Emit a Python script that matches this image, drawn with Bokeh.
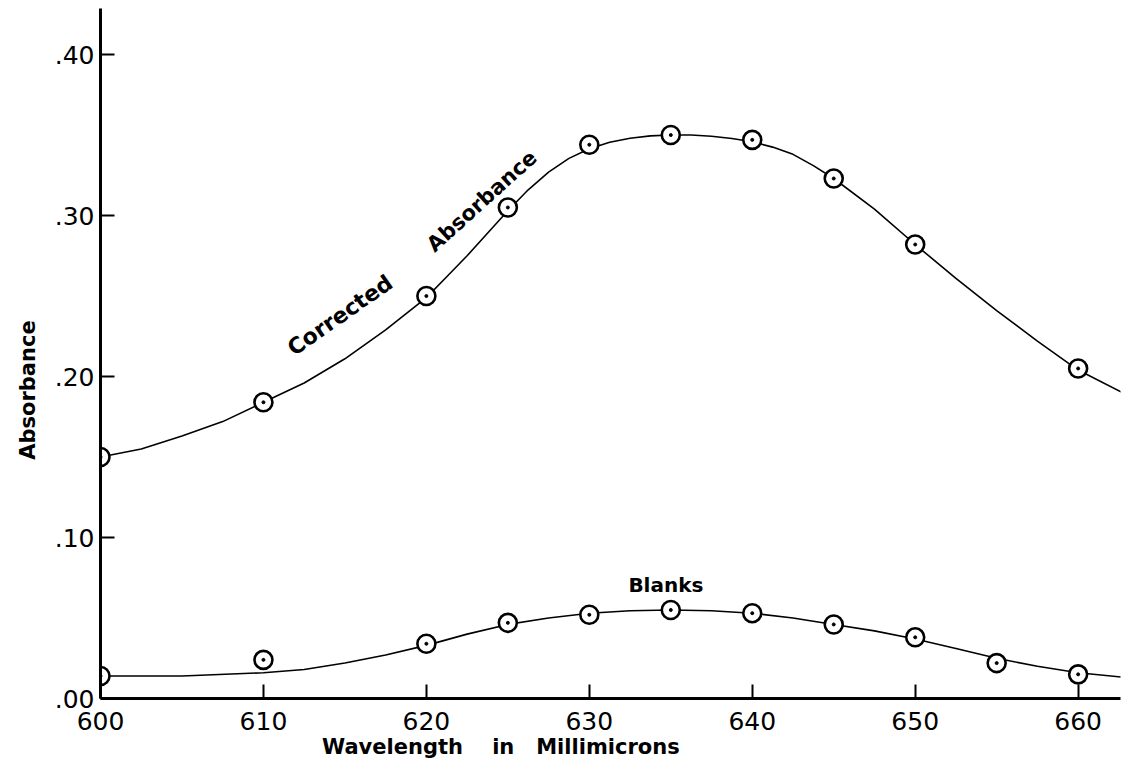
from bokeh.plotting import figure
from bokeh.models import FixedTicker, Range1d, Label
from bokeh.embed import file_html
from bokeh.resources import INLINE

# ---- data ----
wavelength_corr = [600, 610, 620, 625, 630, 635, 640, 645, 650, 660]
absorb_corr = [0.150, 0.184, 0.250, 0.305, 0.344, 0.350, 0.347, 0.323, 0.282, 0.205]

wavelength_blank = [600, 610, 620, 625, 630, 635, 640, 645, 650, 655, 660]
absorb_blank = [0.014, 0.024, 0.034, 0.047, 0.052, 0.055, 0.053, 0.046, 0.038, 0.022, 0.015]

# hand-drawn smooth curves
curve_corr_x = [600, 602.5, 605, 607.5, 610, 612.5, 615, 617.5, 620, 621.25, 622.5, 623.75,
                625, 626.25, 627.5, 628.75, 630, 631.25, 632.5, 633.75, 635, 636.25, 637.5,
                638.75, 640, 641.25, 642.5, 643.75, 645, 647.5, 650, 652.5, 655, 657.5,
                660, 663.5]
curve_corr_y = [0.150, 0.155, 0.163, 0.172, 0.184, 0.196, 0.211, 0.229, 0.249, 0.262,
                0.275, 0.289, 0.303, 0.316, 0.327, 0.3355, 0.3415, 0.3455, 0.348, 0.3495,
                0.350, 0.3500, 0.3492, 0.3478, 0.3458, 0.3425, 0.338, 0.331, 0.323, 0.304,
                0.282, 0.261, 0.241, 0.222, 0.204, 0.186]

curve_blank_x = [600, 605, 610, 612.5, 615, 617.5, 620, 622.5, 625, 627.5, 630, 632.5,
                 635, 637.5, 640, 642.5, 645, 647.5, 650, 652.5, 655, 657.5, 660, 663]
curve_blank_y = [0.014, 0.014, 0.016, 0.018, 0.022, 0.027, 0.033, 0.040, 0.046, 0.050,
                 0.053, 0.0545, 0.055, 0.0545, 0.053, 0.050, 0.046, 0.042, 0.037, 0.031,
                 0.025, 0.020, 0.016, 0.013]

x_ticks = [600, 610, 620, 630, 640, 650, 660]
y_ticks = [0.0, 0.1, 0.2, 0.3, 0.4]
y_tick_labels = [".00", ".10", ".20", ".30", ".40"]

FONT = "DejaVu Sans"
NB = "\u00a0"

p = figure(width=1130, height=766, output_backend="svg", toolbar_location=None,
           x_range=Range1d(600, 662.6), y_range=Range1d(0, 0.4286),
           min_border_left=100, min_border_right=10, min_border_top=8,
           min_border_bottom=68)
p.outline_line_color = None
p.grid.visible = False
p.background_fill_color = "white"
p.border_fill_color = "white"

# curves
p.line(curve_corr_x, curve_corr_y, line_color="black", line_width=1.6)
p.line(curve_blank_x, curve_blank_y, line_color="black", line_width=1.6)

# markers: open circles with a center dot
for xs, ys in ((wavelength_corr, absorb_corr), (wavelength_blank, absorb_blank)):
    p.scatter(xs, ys, marker="circle", size=18, fill_color="white",
              line_color="black", line_width=2.6)
    p.scatter(xs, ys, marker="circle", size=3, fill_color="black", line_color="black")

# axes
for ax in (p.xaxis[0], p.yaxis[0]):
    ax.axis_line_width = 3
    ax.axis_line_color = "black"
    ax.major_tick_in = 14
    ax.major_tick_out = 0
    ax.major_tick_line_width = 2
    ax.minor_tick_line_color = None
    ax.major_label_text_font = FONT
    ax.major_label_text_font_size = "25px"
    ax.major_label_text_color = "black"
    ax.axis_label_text_font = FONT
    ax.axis_label_text_font_style = "bold"
    ax.axis_label_text_font_size = "21px"
    ax.axis_label_text_color = "black"

p.xaxis.ticker = FixedTicker(ticks=x_ticks)
p.xaxis.major_label_standoff = 13
# trailing spaces shift the centred title to the left, as in the original
p.xaxis.axis_label = "Wavelength" + NB * 4 + "in" + NB * 3 + "Millimicrons" + NB * 30
p.xaxis.axis_label_standoff = 2

p.yaxis.ticker = FixedTicker(ticks=y_ticks)
p.yaxis.major_label_overrides = {t: l for t, l in zip(y_ticks, y_tick_labels)}
p.yaxis.major_label_standoff = 6
p.yaxis.axis_label = "Absorbance" + NB * 10
p.yaxis.axis_label_standoff = 12

# annotations
p.add_layout(Label(x=614.7, y=0.238, text="Corrected", angle=35, angle_units="deg",
                   text_align="center", text_baseline="middle", text_font=FONT,
                   text_font_style="bold", text_font_size="22px", text_color="black"))
p.add_layout(Label(x=623.4, y=0.309, text="Absorbance", angle=42, angle_units="deg",
                   text_align="center", text_baseline="middle", text_font=FONT,
                   text_font_style="bold", text_font_size="21px", text_color="black"))
p.add_layout(Label(x=634.7, y=0.0708, text="Blanks",
                   text_align="center", text_baseline="middle", text_font=FONT,
                   text_font_style="bold", text_font_size="20px", text_color="black"))

open("out.html", "w").write(file_html(p, INLINE))
